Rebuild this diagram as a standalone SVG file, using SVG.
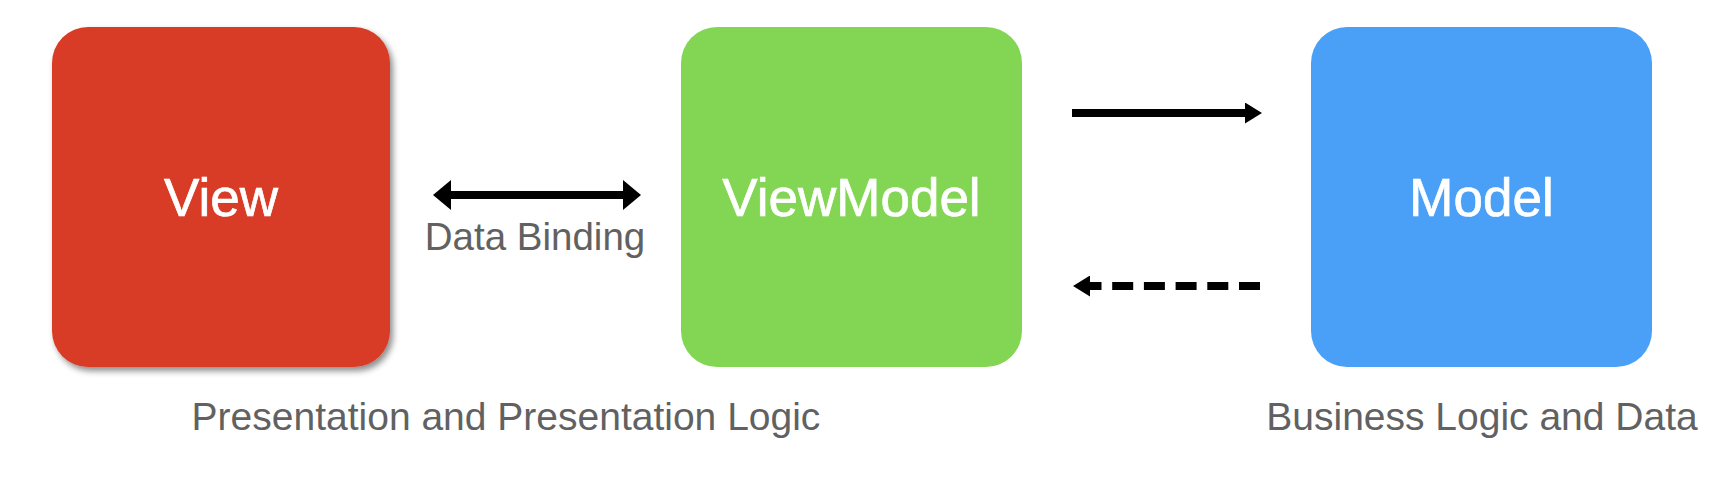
<svg xmlns="http://www.w3.org/2000/svg" width="1717" height="481" viewBox="0 0 1717 481">
<style>
.box-label{font-family:"Liberation Sans",Arial,sans-serif;font-size:53px;fill:#ffffff;stroke:#ffffff;stroke-width:0.7;text-anchor:middle}
.caption{font-family:"Liberation Sans",Arial,sans-serif;font-size:39px;fill:#616161;text-anchor:middle}
.conn{stroke:#000;stroke-width:8;fill:none}
</style>
<defs>
<filter id="shadow" x="-10%" y="-10%" width="125%" height="125%">
<feDropShadow dx="3" dy="4" stdDeviation="3" flood-color="#000" flood-opacity="0.45"/>
</filter>
<marker id="headBig" viewBox="0 0 18 30" refX="12" refY="15" markerWidth="18" markerHeight="30" markerUnits="userSpaceOnUse" orient="auto-start-reverse">
<path d="M0,0 L18,15 L0,30 z" fill="#000"/>
</marker>
<marker id="head" viewBox="0 0 17 21" refX="9" refY="10.5" markerWidth="17" markerHeight="21" markerUnits="userSpaceOnUse" orient="auto">
<path d="M0,0 L17,10.5 L0,21 z" fill="#000"/>
</marker>
</defs>
<rect width="1717" height="481" fill="#ffffff"/>
<g id="view">
<rect x="52" y="27" width="338" height="340" rx="36" ry="36" fill="#D83B25" filter="url(#shadow)"/>
<text class="box-label" x="221" y="216">View</text>
</g>
<g id="viewmodel">
<rect x="681" y="27" width="341" height="340" rx="36" ry="36" fill="#82D653"/>
<text class="box-label" x="851.5" y="216">ViewModel</text>
</g>
<g id="model">
<rect x="1311" y="27" width="341" height="340" rx="36" ry="36" fill="#4AA0F7"/>
<text class="box-label" x="1481.5" y="216">Model</text>
</g>
<g id="connectors">
<line class="conn" x1="439" y1="195" x2="635" y2="195" marker-start="url(#headBig)" marker-end="url(#headBig)"/>
<text class="caption" x="535" y="250" style="font-size:38.5px">Data Binding</text>
<line class="conn" x1="1072" y1="113" x2="1254" y2="113" marker-end="url(#head)"/>
<line class="conn" x1="1260" y1="286" x2="1081" y2="286" stroke-dasharray="21 10.7" marker-end="url(#head)"/>
</g>
<text class="caption" x="506" y="430">Presentation and Presentation Logic</text>
<text class="caption" x="1482" y="430">Business Logic and Data</text>
</svg>
